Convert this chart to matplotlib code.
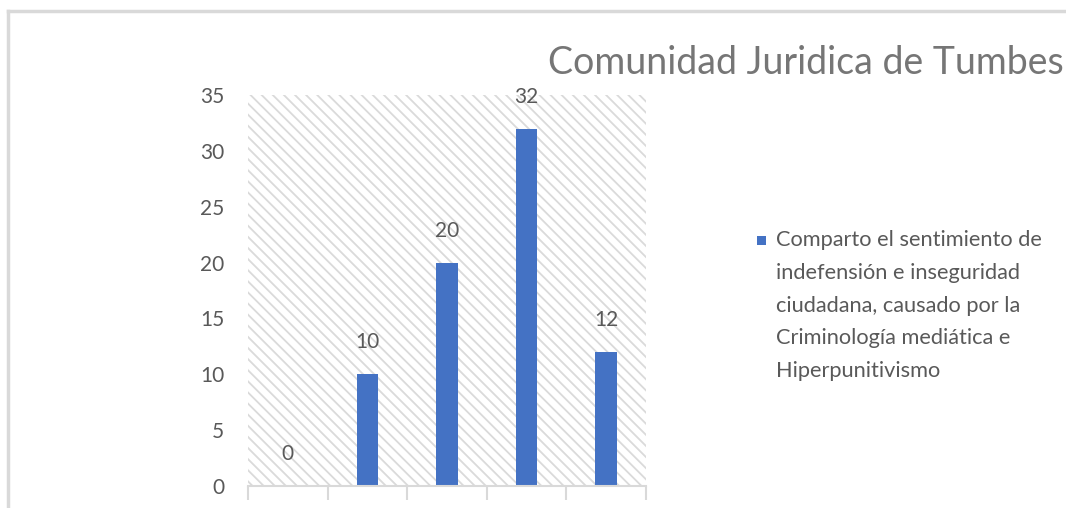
import matplotlib
matplotlib.use("Agg")
import matplotlib.pyplot as plt
from matplotlib.patches import Rectangle
from matplotlib.lines import Line2D

# data
categories = ["1", "2", "3", "4", "5"]
values = [0, 10, 20, 32, 12]
yticks = [0, 5, 10, 15, 20, 25, 30, 35]
title = "Comunidad Juridica de Tumbes"
series_name = ("Comparto el sentimiento de\nindefensión e inseguridad\n"
               "ciudadana, causado por la\nCriminología mediática e\nHiperpunitivismo")

BLUE = "#4472C4"
TXT = "#595959"
GRID = "#d9d9d9"

plt.rcParams["font.family"] = ["Lato", "DejaVu Sans"]
plt.rcParams["hatch.linewidth"] = 1.3

fig = plt.figure(figsize=(10.66, 5.08), dpi=100)
ax = fig.add_axes([248 / 1066, 1 - 486 / 508, 398 / 1066, 391 / 508])

# hatched plot area
ax.add_patch(Rectangle((0, 0), 1, 1, transform=ax.transAxes, facecolor="white",
                       edgecolor="#dadada", linewidth=0, hatch="\\\\\\", zorder=0))

x = list(range(len(categories)))
ax.bar(x, values, width=0.27, color=BLUE, zorder=2)
for xi, v in zip(x, values):
    ax.annotate(str(v), (xi, v), xytext=(0, 32), textcoords="offset pixels",
                ha="center", va="center", fontsize=15, color=TXT)

ax.set_xlim(-0.5, len(categories) - 0.5)
ax.set_ylim(0, 35)
ax.set_yticks(yticks)
ax.set_yticklabels([str(t) for t in yticks], fontsize=15, color=TXT)
ax.tick_params(axis="y", length=0, pad=17)
ax.set_xticks([i - 0.5 for i in range(len(categories) + 1)])
ax.set_xticklabels([])
ax.tick_params(axis="x", length=10, width=1.5, color=GRID)
for s in ["top", "right", "left"]:
    ax.spines[s].set_visible(False)
ax.spines["bottom"].set_color(GRID)
ax.spines["bottom"].set_linewidth(1.5)

# legend: square marker aligned with the first line of the wrapped label
fig.add_artist(Rectangle((757 / 1066, 1 - 245 / 508), 9 / 1066, 9 / 508,
                         transform=fig.transFigure, facecolor=BLUE, edgecolor="none"))
fig.text(776 / 1066, 1 - 230 / 508, series_name, fontsize=15.7, color=TXT,
         ha="left", va="top", linespacing=1.8)

fig.text(548 / 1066, 1 - 63 / 508, title, fontsize=27, color="#767676",
         ha="left", va="center")

# chart frame lines
fig.add_artist(Line2D([8 / 1066, 1], [1 - 11 / 508, 1 - 11 / 508], color=GRID, lw=2.5))
fig.add_artist(Line2D([8 / 1066, 8 / 1066], [0, 1 - 11 / 508], color=GRID, lw=2.5))

fig.savefig("out.png", dpi=100)
